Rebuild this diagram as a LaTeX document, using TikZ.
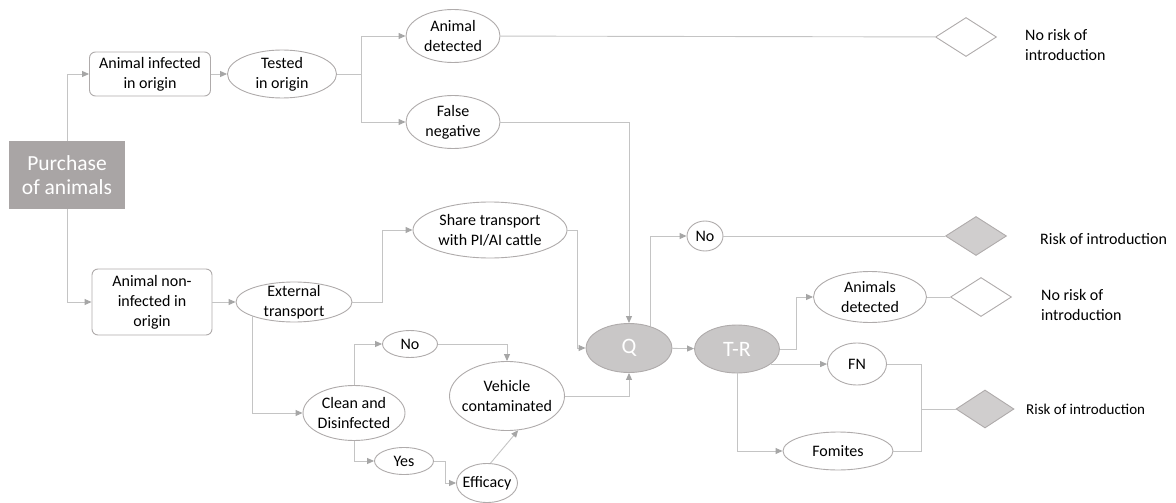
\documentclass[tikz,border=0pt]{standalone}
\usepackage{fontspec}
\setmainfont{Carlito}
\usetikzlibrary{shapes.geometric,arrows.meta}
\definecolor{lc}{HTML}{C4C4C4}
\definecolor{ac}{HTML}{A6A6A6}
\definecolor{bc}{HTML}{AFABAB}
\definecolor{pc}{HTML}{A9A5A5}
\definecolor{qc}{HTML}{C9C7C7}
\definecolor{dc}{HTML}{D0CECE}
\tikzset{
  ln/.style={draw=lc, line width=0.9pt},
  arr/.style={ln, -{Triangle[length=7pt,width=6pt,color=ac]}},
  txt/.style={font=\fontsize{16}{20}\selectfont, align=center, text=black, inner sep=0pt},
  ell/.style={ellipse, draw=bc, line width=0.9pt, fill=white, inner sep=0pt},
  et/.style={label={[txt]center:{#1}}},
  rbox/.style={rectangle, rounded corners=6pt, draw=bc, line width=0.9pt, fill=white, inner sep=0pt, txt},
  gell/.style={ellipse, draw=bc, line width=0.9pt, fill=qc, inner sep=0pt, text=white, font=\fontsize{22}{24}\selectfont},
  dia/.style={diamond, draw=bc, line width=0.9pt, inner sep=0pt, minimum width=61pt, minimum height=39pt},
  lbl/.style={anchor=west, align=left, font=\fontsize{16}{20}\selectfont, inner sep=0pt}
}
\begin{document}
\begin{tikzpicture}[x=1pt,y=-1pt]
\useasboundingbox (0,0) rectangle (1176,503);
% nodes
\node[rectangle, fill=pc, text=white, minimum width=116pt, minimum height=68pt, inner sep=0pt, align=center, font=\fontsize{21.5}{24}\selectfont] (purchase) at (67,175) {Purchase\\of animals};
\node[rbox, minimum width=121pt, minimum height=44pt] (inf) at (150,74) {Animal infected\\in origin};
\node[ell, et={Tested\\in origin}, minimum width=109pt, minimum height=48pt] (tested) at (282,74) {};
\node[ell, et={Animal\\detected}, minimum width=94pt, minimum height=53pt] (adet) at (453,36) {};
\node[ell, et={False\\negative}, minimum width=94pt, minimum height=53pt] (fneg) at (453,122) {};
\node[dia, fill=white] (d1) at (966,37) {};
\node[lbl] (t1) at (1025,45) {No risk of\\introduction};
\node[rbox, minimum width=120pt, minimum height=66pt] (noninf) at (152,302) {Animal non-\\infected in\\origin};
\node[ell, et={External\\transport}, minimum width=116pt, minimum height=40pt] (ext) at (294,302) {};
\node[ell, et={Share transport\\with PI/AI cattle}, minimum width=154pt, minimum height=56pt] (share) at (490,230) {};
\node[ell, et={Clean and\\Disinfected}, minimum width=102pt, minimum height=55pt] (clean) at (354,413) {};
\node[ell, et={No}, minimum width=55pt, minimum height=27pt] (no1) at (410,344) {};
\node[ell, et={Yes}, minimum width=59pt, minimum height=27pt] (yes) at (404,461) {};
\node[ell, et={Vehicle\\contaminated}, minimum width=115pt, minimum height=69pt] (veh) at (507,396) {};
\node[ell, et={Efficacy}, minimum width=61pt, minimum height=39pt] (eff) at (487,483) {};
\node[gell, minimum width=86pt, minimum height=49pt] (Q) at (629,348) {Q};
\node[gell, minimum width=85pt, minimum height=48pt] (TR) at (737,349) {T-R};
\node[ell, et={No}, minimum width=36pt, minimum height=30pt] (no2) at (705,236) {};
\node[dia, fill=dc] (d2) at (976,236) {};
\node[lbl] (t2) at (1040,239) {Risk of introduction};
\node[ell, et={Animals\\detected}, minimum width=113pt, minimum height=51pt] (adet2) at (870,297) {};
\node[dia, fill=white] (d3) at (981,297) {};
\node[lbl] (t3) at (1041,305) {No risk of\\introduction};
\node[ell, et={FN}, minimum width=59pt, minimum height=42pt] (fn) at (857,364) {};
\node[ell, et={Fomites}, minimum width=110pt, minimum height=38pt] (fom) at (838,451) {};
\node[dia, fill=dc, minimum width=58pt, minimum height=38pt] (d4) at (985,409) {};
\node[lbl, font=\fontsize{15}{18}\selectfont] (t4) at (1026,409) {Risk of introduction};
% junction coordinates
\coordinate (b1) at (361,74);
\coordinate (b2) at (382,302);
\coordinate (b3) at (577,348);
\coordinate (b5) at (445,461);
\coordinate (b7) at (796,349);
\coordinate (b8) at (921,409);
% connectors
\draw[arr] (purchase.north) |- (inf.west);
\draw[arr] (purchase.south) |- (noninf.west);
\draw[arr] (inf) -- (tested);
\draw[ln] (tested.east) -- (b1);
\draw[arr] (b1) |- (adet.west);
\draw[arr] (b1) |- (fneg.west);
\draw[ln] (adet) -- (d1);
\draw[arr] (fneg.east) -| (Q.north);
\draw[arr] (noninf) -- (ext);
\draw[arr] (ext.east) -- (b2) |- (share.west);
\draw[arr] (share.east) -| (b3) -- (Q.west);
\draw[arr] (ext.south west) |- (clean.west);
\draw[arr] (clean.north) |- (no1.west);
\draw[arr] (clean.south) |- (yes.west);
\draw[arr] (no1.east) -| (veh.north);
\draw[arr] (veh.east) -| (Q.south);
\draw[arr] (yes.east) -- (b5) |- (eff.west);
\draw[arr] (eff.80) -- (veh.-72);
\draw[arr] (Q) -- (TR);
\draw[arr] (Q.45) |- (no2.west);
\draw[ln] (no2.east) -- (d2.west);
\draw[arr] (TR.east) -- (b7) |- (adet2.west);
\draw[ln] (adet2) -- (d3);
\draw[arr] (TR.-24) -- (TR.-24 -| fn.west);
\draw[arr] (TR.south) |- (fom.west);
\draw[ln] (fn.east) -| (b8);
\draw[ln] (fom.east) -| (b8);
\draw[ln] (b8) -- (d4.west);
\end{tikzpicture}
\end{document}
